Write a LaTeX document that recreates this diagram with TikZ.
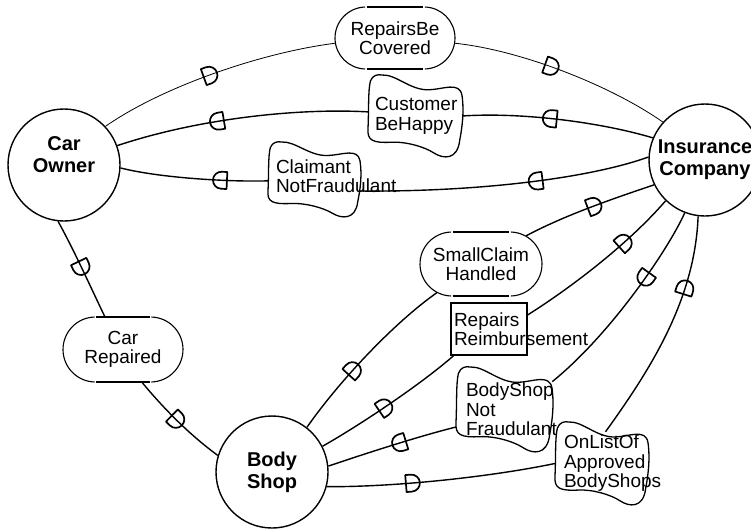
\documentclass[tikz,border=0pt]{standalone}
\usepackage{fontspec}
\setmainfont{Liberation Sans}
\usetikzlibrary{shapes.misc,decorations.markings,calc}
\hyphenpenalty=10000
\exhyphenpenalty=10000
\newcommand\sgcloud[3]{\draw[cloudline, shift={(#1)}, xscale=#2, yscale=#3]
  (-0.7,1) .. controls (-0.4,1.02) and (-0.1,0.62) .. (0.3,0.64)
  .. controls (0.6,0.65) and (0.95,0.85) .. (1,0.5)
  .. controls (1.05,0.1) and (1.0,-0.3) .. (0.95,-0.6)
  .. controls (0.9,-1.08) and (0.6,-1.05) .. (0.4,-0.9)
  .. controls (0.2,-0.75) and (-0.2,-0.62) .. (-0.5,-0.64)
  .. controls (-0.9,-0.66) and (-1.02,-0.6) .. (-1,-0.3)
  .. controls (-0.98,0.2) and (-1.0,0.6) .. (-0.95,0.85)
  .. controls (-0.9,1.0) and (-0.8,1.02) .. (-0.7,1) -- cycle;}
\newcommand\goalline[3]{%
  \begin{scope}[shift={(#1)}]
    \draw[goalstroke] (-#2+#3,0) ++(91.5:#3) arc[start angle=91.5, end angle=268.5, radius=#3];
    \draw[goalstroke] (#2-#3,0) ++(-88.5:#3) arc[start angle=-88.5, end angle=88.5, radius=#3];
    \draw[goalstroke] (-#2+#3+0.8,#3) -- (#2-#3-0.8,#3);
    \draw[goalstroke] (-#2+#3+0.8,-#3) -- (#2-#3-0.8,-#3);
  \end{scope}}
\tikzset{
  actor/.style={circle, draw, line width=1.4pt, minimum size=112pt, inner sep=0pt, align=center, font=\bfseries\fontsize{20}{22}\selectfont},
  goal/.style={rounded rectangle, inner sep=0pt, align=center, font=\fontsize{19}{19.5}\selectfont},
  goalstroke/.style={line width=1.1pt},
  softgoal/.style={rectangle, inner sep=0pt, align=left, font=\fontsize{19}{19.5}\selectfont},
  resource/.style={rectangle, draw, line width=1.4pt, inner sep=3pt, align=left, text width=70pt, minimum height=52pt, font=\fontsize{19}{19.5}\selectfont},
  link/.style={line width=1.4pt},
  thinlink/.style={line width=0.8pt},
  cloudline/.style={line width=1.3pt},
  dshape/.style={line width=1.7pt, line join=round},
  dm/.style={postaction={decorate, decoration={markings, mark=at position #1 with {\draw[dshape] (-8pt,8.5pt) -- (-2.5pt,8.5pt) arc[start angle=90, end angle=-90, radius=8.5pt] -- (-8pt,-8.5pt) -- cycle;}}}}
}
\begin{document}
\begin{tikzpicture}[x=1pt,y=1pt]
\useasboundingbox (0,0) rectangle (751,-531);
% actors
\node[actor] (co) at (64,-165) {Car\\Owner\\[-2pt]~};
\node[actor] (ic) at (705,-160) {Insurance\\Company};
\node[actor] (bs) at (272,-472) {Body\\Shop};
% goals
\node[goal, minimum width=120pt, minimum height=62pt] (rbc) at (395,-38) {RepairsBe\\Covered};
\goalline{rbc.center}{60}{31}
\node[goal, minimum width=122pt, minimum height=64pt] (sch) at (481,-264) {SmallClaim\\Handled};
\goalline{sch.center}{61}{32}
\node[goal, minimum width=120pt, minimum height=65pt] (cr) at (123,-349.5) {Car\\Repaired};
\goalline{cr.center}{60}{32.5}
% softgoals
\node[softgoal, minimum width=94pt, minimum height=82pt, text width=80pt] (cbh) at (415,-116) {Customer\\BeHappy};
\sgcloud{cbh.center}{47}{41}
\node[softgoal, minimum width=92pt, minimum height=75pt, text width=76pt] (cnf) at (314,-176) {Claimant\\NotFraudulant};
\sgcloud{[yshift=-3.5pt]cnf.center}{46}{37.5}
\node[softgoal, minimum width=96pt, minimum height=85pt, text width=76pt] (bsnf) at (504,-409.5) {BodyShop\\Not\\Fraudulant};
\sgcloud{bsnf.center}{48}{42.5}
\node[softgoal, minimum width=93pt, minimum height=83pt, text width=75pt] (olab) at (601.5,-463.5) {OnListOf\\Approved\\BodyShops};
\sgcloud{olab.center}{46.5}{41.5}
% resource
\node[resource] (rr) at (489,-329) {Repairs\\Reimbursement};
% dependencies
\draw[thinlink, dm=0.48] (co.43) .. controls (165,-85) and (265,-52) .. (rbc.185);
\draw[thinlink, dm=0.45] (rbc.-5) .. controls (520,-50) and (610,-85) .. (ic.138);
\draw[link, dm=0.55] (ic.157) .. controls (600,-122) and (520,-112) .. (cbh.east);
\draw[link, dm=0.6] (cbh.175) .. controls (300,-108) and (200,-118) .. (co.20);
\draw[link, dm=0.4] (ic.177) .. controls (590,-178) and (480,-192) .. (cnf.-18);
\draw[link, dm=0.33] (cnf.186) .. controls (230,-182) and (160,-178) .. (co.-3);
\draw[link, dm=0.4] (bs.52) .. controls (340,-380) and (395,-322) .. (sch.213);
\draw[link, dm=0.55] (sch.32) .. controls (565,-215) and (615,-198) .. (ic.206);
\draw[link, dm=0.47] (bs.27) .. controls (360,-425) and (420,-385) .. (rr.217);
\draw[link, dm=0.68] (rr.20) .. controls (575,-285) and (630,-242) .. (ic.226);
\draw[link, dm=0.36] (ic.249) .. controls (668,-250) and (610,-335) .. (bsnf.30);
\draw[link, dm=0.45] (bsnf.200) .. controls (420,-436) and (370,-452) .. (bs.6);
\draw[link, dm=0.38] (bs.-15) .. controls (400,-487) and (495,-476) .. (olab.west);
\draw[link, dm=0.7] ([xshift=4pt,yshift=-10pt]olab.north) .. controls (650,-370) and (695,-300) .. (ic.263);
\draw[link, dm=0.5] (co.264) .. controls (74,-250) and (92,-290) .. (cr.119);
\draw[link, dm=0.5] (cr.-60) .. controls (165,-410) and (190,-435) .. (bs.163);
\end{tikzpicture}
\end{document}
